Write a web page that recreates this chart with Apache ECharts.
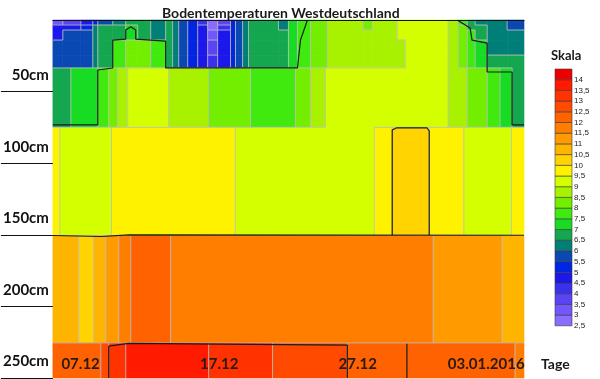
<!DOCTYPE html>
<html><head><meta charset="utf-8">
<script src="https://cdn.jsdelivr.net/npm/echarts@6/dist/echarts.min.js"></script>
<style>html,body{margin:0;padding:0;background:#fff}#c{width:600px;height:379px}</style>
</head><body><div id="c"></div>
<script>
// ---------- data ----------
const chartTitle = 'Bodentemperaturen Westdeutschland';
const depthTicks = [50, 100, 150, 200, 250];            // cm
const dayLabels = ['07.12', '17.12', '27.12', '03.01.2016'];
const dayLabelPos = [2, 12, 22, 29];                     // day index (0 = 05.12)
const dayMax = 34;
const scaleLevels = [2.5,3,3.5,4,4.5,5,5.5,6,6.5,7,7.5,8,8.5,9,9.5,10,10.5,11,11.5,12,12.5,13,13.5,14];
const scaleLabels = ['2,5','3','3,5','4','4,5','5','5,5','6','6,5','7','7,5','8','8,5','9','9,5','10','10,5','11','11,5','12','12,5','13','13,5','14'];

// depth rows (cm)
const rowDepths = [0, 3.5, 7, 14, 24.5, 33.5, 75, 150.5, 225.5, 250];

// top layer columns (start day) and temperatures per sub-row
const topCols = [0,0.72,2.02,2.88,3.24,4.32,5.26,6.12,7.06,8.14,8.64,9.08,9.73,10.45,11.17,11.89,12.82,13.18,13.69,14.12,16.28,17.0,17.65,18.59,19.81,22.40,23.05,24.85,25.43,28.53,29.25,29.9,30.47,31.34,32.78];
const topRow1 = [3.25,3.75,4.75,5.25,5.75,6.25,6.75,6.75,6.25,6.75,6.25,5.75,5.25,4.25,2.75,3.75,5.25,5.75,6.25,6.75,6.25,7.25,7.75,8.25,8.75,8.25,8.75,9.25,9.25,8.75,7.75,6.75,6.25,6.25,5.75];
const topRow2 = [4.75,4.75,5.25,6.25,6.75,6.75,7.25,6.75,6.25,6.75,6.25,5.75,5.25,4.75,2.75,4.25,5.25,5.75,6.25,6.75,6.25,7.25,7.75,8.25,8.75,8.25,8.75,9.25,9.25,8.75,8.25,6.75,6.75,6.25,5.75];
const topRow3 = [4.75,5.75,5.75,6.25,6.75,6.75,7.25,6.75,6.25,6.75,6.25,5.75,5.25,4.75,3.25,4.75,5.25,5.75,6.25,6.75,6.75,7.25,7.75,8.25,8.75,8.75,8.75,9.25,9.25,8.75,8.25,7.75,6.75,6.25,6.25];
const topRow4 = [5.75,5.75,5.75,6.25,6.75,7.75,8.25,8.25,7.75,6.75,6.25,5.75,5.25,4.75,3.75,4.75,5.25,5.75,6.25,6.75,6.75,7.25,7.75,8.25,8.75,8.75,8.75,8.75,9.25,8.75,8.25,7.75,7.25,6.25,6.25];
const topRow5 = [5.75,5.75,5.75,6.25,6.75,7.75,8.25,8.25,7.75,6.75,6.25,5.75,5.25,4.75,4.25,4.75,5.25,5.75,6.25,6.75,6.75,7.25,7.75,8.25,8.75,8.75,8.75,8.75,9.25,8.75,8.25,7.75,7.25,6.75,6.75];

const row50Starts = [0,1.30,3.24,4.03,4.68,5.40,8.36,11.24,14.26,17.50,18.59,19.67,28.53,29.90,31.34,32.27,33.14];
const row50Temps  = [6.75,7.25,7.75,8.25,8.75,9.25,8.75,8.25,7.75,8.25,8.75,9.25,8.75,8.25,7.75,7.25,6.75];
const row100Starts = [0,0.5,4.23,13.16,23.2,24.49,27.16,29.66,33.1];
const row100Temps  = [9.75,9.25,9.75,9.25,9.75,10.25,9.75,9.25,9.75];
const row200Starts = [0,1.87,2.95,3.82,4.75,5.62,8.50,27.45,32.42];
const row200Temps  = [10.75,10.25,10.75,11.25,11.75,12.25,11.75,11.25,10.75];
const row250Starts = [0,3.46,4.03,5.26,11.24,15.85,21.25,33.35];
const row250Temps  = [12.25,12.75,13.25,13.75,13.25,12.75,12.25,11.75];

// contour lines [day, depth]
const contour7a = [[0,73.3],[3.24,73.3],[3.24,34.9],[4.32,33.5],[4.32,14.0],[5.26,13.3],[5.26,7.0],[5.62,4.7],[5.98,7.0],[5.98,13.3],[8.14,14.7],[8.14,33.5],[17.65,33.5],[17.87,14.0],[18.37,0]];
const contour7b = [[29.18,0],[30.11,5.6],[30.25,14.0],[31.34,16.1],[31.34,36.3],[33.14,36.3],[33.14,73.3],[34,73.3]];
const contour10a = [[24.49,150.2],[24.49,76.8],[24.78,75.4],[27.01,75.4],[27.16,77.5],[27.16,150.2]];
const contour10b = [[0,150.5],[3.5,151.2],[5.5,150.0],[34,150.3]];
const contour13 = [[4.03,250],[4.03,227.7],[5.47,225.8],[21.25,227.0],[21.25,250]];
const contour12 = [[25.55,226],[25.55,250]];

// ---------- styles ----------
const bandColors = ['#8A6CFF','#7256FF','#5A44F4','#3C30F0','#1C18EC','#0026E4','#0A48B4','#007F78','#15A650','#18DC24','#40EA0E','#74EE00','#A8F200','#D4FF00','#FFF200','#FFD400','#FFB400','#FF9A00','#FF7E00','#FF6200','#FF4A00','#FF3200','#FF1A00','#EE0000'];
function colorOf(t){
  let i = 0;
  for (let k = 0; k < scaleLevels.length; k++) if (t >= scaleLevels[k]) i = k;
  return bandColors[i];
}

// ---------- build ----------
const rowStarts = [topCols,topCols,topCols,topCols,topCols,row50Starts,row100Starts,row200Starts,row250Starts];
const rowTemps = [topRow1,topRow2,topRow3,topRow4,topRow5,row50Temps,row100Temps,row200Temps,row250Temps];
const rows = rowStarts.map((s,r)=>s.map((x0,i)=>({x0:x0,x1:i+1<s.length?s[i+1]:dayMax,t:rowTemps[r][i]})));
const cells = [];
rows.forEach((segs,r)=>segs.forEach(s=>cells.push([s.x0,s.x1,rowDepths[r],rowDepths[r+1],s.t])));
const edges = [];
rows.forEach((segs,r)=>{
  segs.forEach((s,i)=>{ if(i>0 && segs[i-1].t!==s.t) edges.push([s.x0,rowDepths[r],s.x0,rowDepths[r+1]]); });
  if(r>0) rows[r-1].forEach(u=>segs.forEach(s=>{
    const a=Math.max(u.x0,s.x0), b=Math.min(u.x1,s.x1);
    if(b>a && u.t!==s.t) edges.push([a,rowDepths[r],b,rowDepths[r]]);
  }));
});

// legend (colour scale) graphics
const legX = 555, legTop = 69, legW = 17, legH = 10.7;
const legendGraphics = [];
scaleLevels.forEach((v,i)=>{
  const y = legTop + (scaleLevels.length-1-i)*legH;
  legendGraphics.push({type:'rect',shape:{x:legX,y:y,width:legW,height:legH},style:{fill:bandColors[i],stroke:'#3a3a3a',lineWidth:0.6}});
  legendGraphics.push({type:'text',x:legX+legW+2,y:y+legH,style:{text:scaleLabels[i],font:'8px "Liberation Sans", Arial, sans-serif',fill:'#222',verticalAlign:'middle',align:'left'}});
});

const chart = echarts.init(document.getElementById('c'), null, {renderer:'canvas'});
const boldFont = {fontFamily:'Lato',fontWeight:'bold'};
const contourSeries = [contour7a,contour7b,contour10a,contour10b,contour13,contour12].map(d=>({
  type:'line', data:d, symbol:'none', silent:true, z:6,
  lineStyle:{color:'#1a1a1a',width:1.2}
}));
chart.setOption({
  animation:false,
  title:[
    {text:chartTitle,left:157,top:1,textStyle:Object.assign({fontSize:14,color:'#1a1a1a'},boldFont)},
    {text:'Skala',left:546,top:44,textStyle:Object.assign({fontSize:13,color:'#1a1a1a'},boldFont)},
    {text:'Tage',left:536,top:352,textStyle:Object.assign({fontSize:14,color:'#1a1a1a'},boldFont)}
  ],
  grid:{left:52,right:76,top:20,bottom:1,show:false},
  xAxis:{
    type:'value',min:0,max:dayMax,z:10,
    axisLine:{show:true,lineStyle:{color:'#111',width:1}},
    axisTick:{show:false},splitLine:{show:false},
    axisLabel:Object.assign({
      inside:true,margin:6,customValues:dayLabelPos,fontSize:15,color:'#2a1a14',
      formatter:function(v){const i=dayLabelPos.indexOf(v);if(i<0)return '';return i===dayLabels.length-1?'{r|'+dayLabels[i]+'}':dayLabels[i];},
      rich:{r:Object.assign({fontSize:15,color:'#2a1a14',padding:[0,0,0,63]},boldFont)}
    },boldFont)
  },
  yAxis:{
    type:'value',inverse:true,min:0,max:250,interval:50,z:10,
    axisLine:{show:false},splitLine:{show:false},
    axisTick:{show:true,length:52,customValues:depthTicks,lineStyle:{color:'#111',width:1}},
    axisLabel:Object.assign({customValues:depthTicks,formatter:'{value}cm',margin:4,fontSize:15,color:'#111',verticalAlign:'bottom',padding:[0,0,9,0]},boldFont)
  },
  graphic:legendGraphics,
  series:[
    {
      type:'custom',data:cells,encode:{x:[0,1],y:[2,3]},z:2,silent:true,
      renderItem:function(params,api){
        const p0=api.coord([api.value(0),api.value(2)]);
        const p1=api.coord([api.value(1),api.value(3)]);
        const c=colorOf(api.value(4));
        return {type:'rect',shape:{x:Math.min(p0[0],p1[0]),y:Math.min(p0[1],p1[1]),width:Math.abs(p1[0]-p0[0]),height:Math.abs(p1[1]-p0[1])},
          style:{fill:c,stroke:c,lineWidth:0.6}};
      }
    },
    {
      type:'custom',data:edges,encode:{x:[0,2],y:[1,3]},z:4,silent:true,
      renderItem:function(params,api){
        const p0=api.coord([api.value(0),api.value(1)]);
        const p1=api.coord([api.value(2),api.value(3)]);
        return {type:'line',shape:{x1:p0[0],y1:p0[1],x2:p1[0],y2:p1[1]},style:{stroke:'rgba(190,190,190,0.85)',lineWidth:1}};
      }
    }
  ].concat(contourSeries)
});
</script></body></html>
